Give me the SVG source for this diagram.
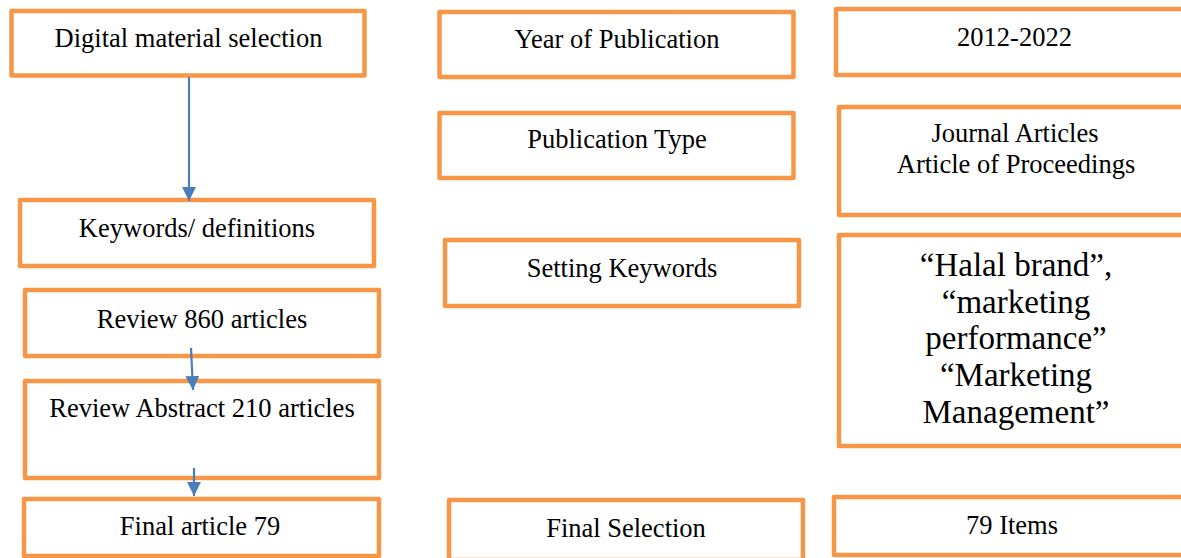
<svg xmlns="http://www.w3.org/2000/svg" width="1181" height="558" viewBox="0 0 1181 558">
  <style>
    .box { fill: #ffffff; stroke: #f79646; stroke-width: 4.5; stroke-linejoin: round; }
    .lbl { font-family: "Liberation Serif", "Times New Roman", serif; font-size: 26.5px; fill: #000000; text-anchor: middle; }
    .big { font-family: "Liberation Serif", "Times New Roman", serif; font-size: 33px; fill: #000000; text-anchor: middle; }
    .conn { stroke: #4a7ebb; stroke-width: 2.2; fill: none; }
  </style>
  <defs>
    <marker id="arrow" viewBox="0 0 14 14" refX="14" refY="7" markerWidth="14" markerHeight="14" markerUnits="userSpaceOnUse" orient="auto">
      <path d="M0,0 L14,7 L0,14 z" fill="#4a7ebb"/>
    </marker>
  </defs>
  <rect width="1181" height="558" fill="#ffffff"/>

  <!-- left column: selection flow -->
  <g id="digital-material">
    <rect class="box" x="11.5" y="11" width="353" height="64.5"/>
    <text class="lbl" x="188.5" y="47">Digital material selection</text>
  </g>
  <g id="keywords-definitions">
    <rect class="box" x="20" y="200" width="354" height="66"/>
    <text class="lbl" x="197" y="237">Keywords/ definitions</text>
  </g>
  <g id="review-860">
    <rect class="box" x="25" y="290" width="354" height="66"/>
    <text class="lbl" x="202" y="328">Review 860 articles</text>
  </g>
  <g id="review-abstract">
    <rect class="box" x="25" y="381" width="354" height="97"/>
    <text class="lbl" x="202" y="417">Review Abstract 210 articles</text>
  </g>
  <g id="final-article">
    <rect class="box" x="24" y="499" width="355" height="57"/>
    <text class="lbl" x="200" y="535">Final article 79</text>
  </g>

  <!-- middle column: criteria -->
  <g id="year-of-publication">
    <rect class="box" x="439.5" y="12" width="354" height="65"/>
    <text class="lbl" x="617" y="48">Year of Publication</text>
  </g>
  <g id="publication-type">
    <rect class="box" x="439.5" y="113" width="354" height="65"/>
    <text class="lbl" x="617" y="148">Publication Type</text>
  </g>
  <g id="setting-keywords">
    <rect class="box" x="445" y="240" width="354" height="66"/>
    <text class="lbl" x="622" y="277">Setting Keywords</text>
  </g>
  <g id="final-selection">
    <rect class="box" x="449" y="500" width="354" height="60"/>
    <text class="lbl" x="626" y="537">Final Selection</text>
  </g>

  <!-- right column: values -->
  <g id="years">
    <rect class="box" x="836" y="9" width="360" height="66"/>
    <text class="lbl" x="1014.5" y="46">2012-2022</text>
  </g>
  <g id="types">
    <rect class="box" x="839" y="107" width="360" height="108"/>
    <text class="lbl" x="1015" y="142">Journal Articles</text>
    <text class="lbl" x="1016" y="173">Article of Proceedings</text>
  </g>
  <g id="keywords">
    <rect class="box" x="839" y="235" width="360" height="211"/>
    <text class="big" x="1016" y="276">“Halal brand”,</text>
    <text class="big" x="1016" y="312.5">“marketing</text>
    <text class="big" x="1016" y="349">performance”</text>
    <text class="big" x="1016" y="386">“Marketing</text>
    <text class="big" x="1016" y="422.5">Management”</text>
  </g>
  <g id="items">
    <rect class="box" x="834" y="497" width="360" height="58"/>
    <text class="lbl" x="1012" y="534">79 Items</text>
  </g>

  <!-- connectors -->
  <g id="connectors">
    <line class="conn" x1="189" y1="77" x2="189" y2="201" marker-end="url(#arrow)"/>
    <line class="conn" x1="191" y1="348" x2="193" y2="390" marker-end="url(#arrow)"/>
    <line class="conn" x1="194" y1="468" x2="194" y2="496" marker-end="url(#arrow)"/>
  </g>
</svg>
